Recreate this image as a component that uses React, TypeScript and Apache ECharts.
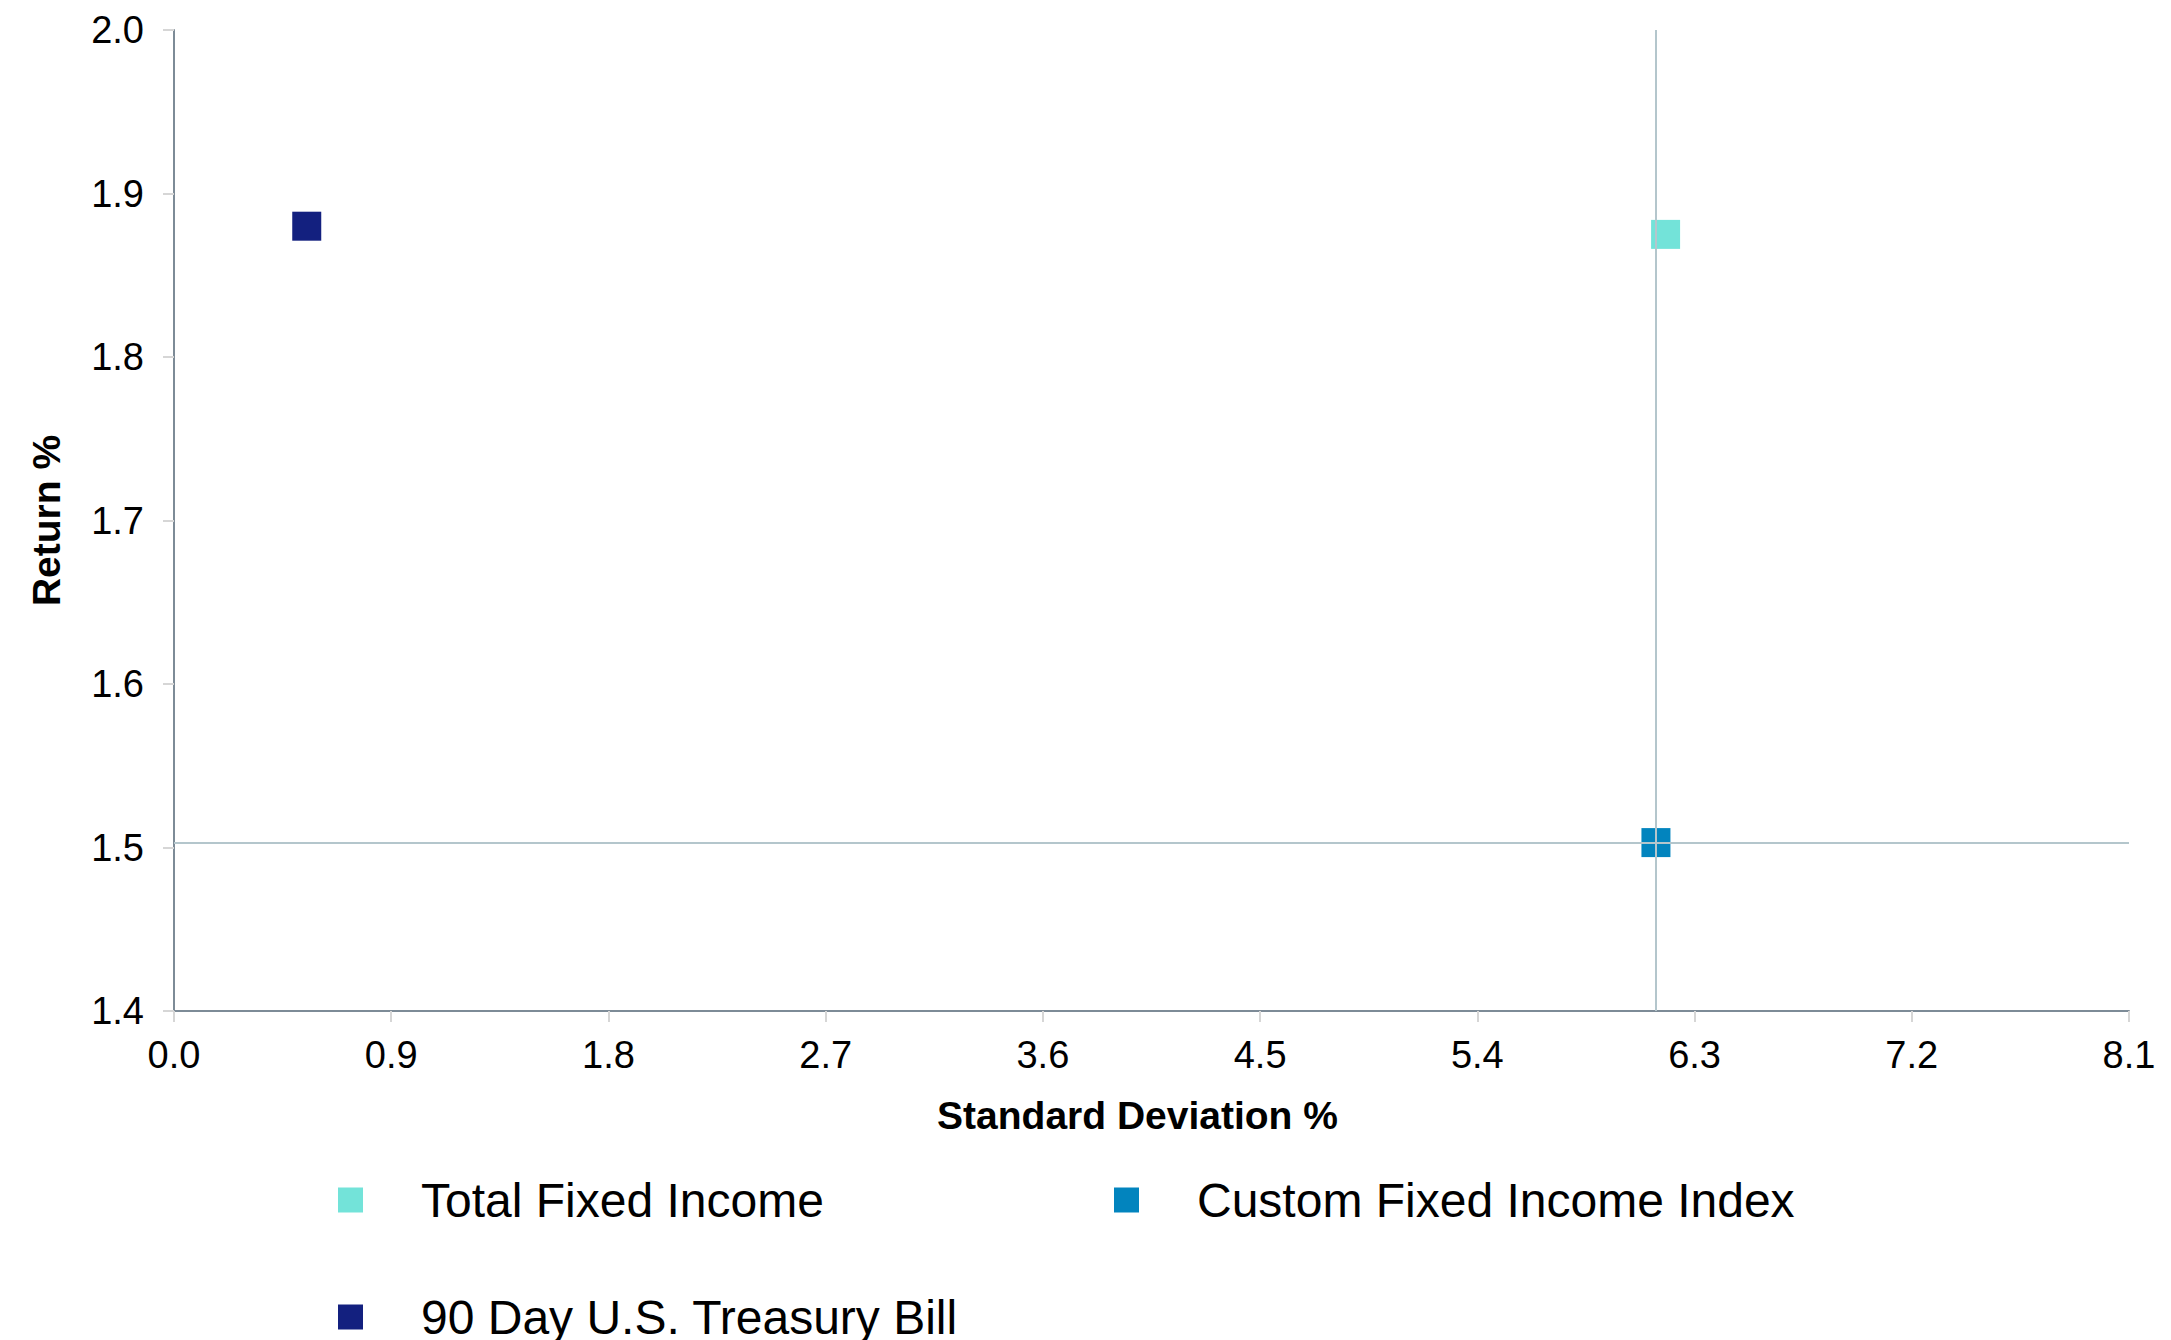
import React, { useEffect, useRef } from "react";
import * as echarts from "echarts";

const seriesNames = ["Total Fixed Income", "Custom Fixed Income Index", "90 Day U.S. Treasury Bill"];
const stdDevValues = [6.18, 6.14, 0.55];
const returnValues = [1.875, 1.503, 1.88];
const seriesColors = ["#73e3d9", "#0284be", "#13207f"];
const benchmarkIndex = 1;

const FONT = "'Liberation Sans', Arial, Helvetica, sans-serif";

export default function App() {
  const ref = useRef<HTMLDivElement>(null);
  useEffect(() => {
    if (!ref.current) return;
    const chart = echarts.init(ref.current, undefined, { renderer: "svg" });
    const series: any[] = seriesNames.map((name, i) => ({
      name,
      type: "scatter",
      symbol: "rect",
      symbolSize: 29,
      itemStyle: { color: seriesColors[i], opacity: 1 },
      data: [[stdDevValues[i], returnValues[i]]],
      ...(i === benchmarkIndex
        ? {
            markLine: {
              silent: true,
              precision: 4,
              symbol: ["none", "none"],
              label: { show: false },
              lineStyle: { color: "#b4c6cc", width: 2, type: "solid", opacity: 1 },
              data: [{ xAxis: stdDevValues[i] }, { yAxis: returnValues[i] }],
            },
          }
        : {}),
    }));
    const legendPos = [
      { left: 338, top: 1176 },
      { left: 1114, top: 1176 },
      { left: 338, top: 1293 },
    ];
    chart.setOption({
      animation: false,
      textStyle: { fontFamily: FONT },
      grid: { left: 174, top: 30, width: 1955, height: 981, containLabel: false },
      xAxis: {
        type: "value",
        min: 0,
        max: 8.1,
        interval: 0.9,
        name: "Standard Deviation %",
        nameLocation: "middle",
        nameGap: 85,
        nameTextStyle: { fontFamily: FONT, fontSize: 39, fontWeight: "bold", color: "#000", padding: [0, 28, 0, 0] },
        axisLine: { show: true, lineStyle: { color: "#7d8b97", width: 2 } },
        axisTick: { show: true, length: 11, lineStyle: { color: "#d6d6d6", width: 2 } },
        axisLabel: { fontFamily: FONT, fontSize: 38, color: "#000", margin: 25, formatter: (v: number) => v.toFixed(1) },
        splitLine: { show: false },
      },
      yAxis: {
        type: "value",
        min: 1.4,
        max: 2.0,
        interval: 0.1,
        name: "Return %",
        nameLocation: "middle",
        nameRotate: 90,
        nameGap: 108,
        nameTextStyle: { fontFamily: FONT, fontSize: 39, fontWeight: "bold", color: "#000" },
        axisLine: { show: true, lineStyle: { color: "#7d8b97", width: 2 } },
        axisTick: { show: true, length: 11, lineStyle: { color: "#d6d6d6", width: 2 } },
        axisLabel: { fontFamily: FONT, fontSize: 38, color: "#000", margin: 30, formatter: (v: number) => v.toFixed(1) },
        splitLine: { show: false },
      },
      legend: seriesNames.map((name, i) => ({
        data: [name],
        left: legendPos[i].left,
        top: legendPos[i].top,
        icon: "rect",
        itemWidth: 25,
        itemHeight: 25,
        padding: 0,
        selectedMode: false,
        itemStyle: { opacity: 1 },
        textStyle: { fontFamily: FONT, fontSize: 48, color: "#000", lineHeight: 48, padding: [0, 0, 0, 53] },
      })),
      series,
    });
    return () => chart.dispose();
  }, []);
  return (
    <div
      ref={ref}
      style={{ position: "absolute", left: 0, top: 0, width: 2171, height: 1340, background: "#fff" }}
    />
  );
}
